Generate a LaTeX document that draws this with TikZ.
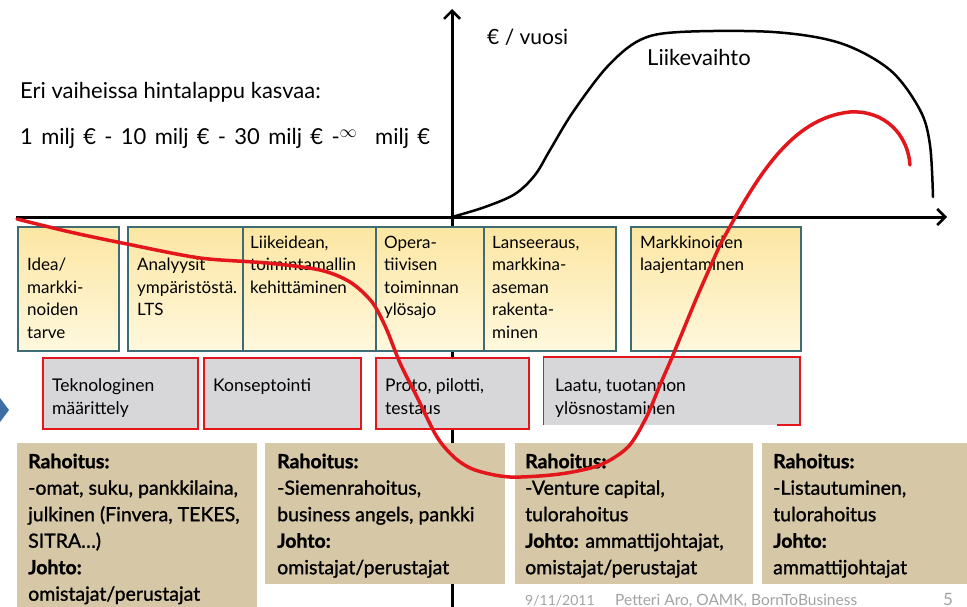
\documentclass[tikz,border=0pt]{standalone}
\usepackage{fontspec}
\setmainfont{Lato}
\newfontfamily\medfont[RawFeature={embolden=1.2}]{Lato}
\usetikzlibrary{arrows.meta,calc}
\definecolor{ytop}{HTML}{FCE6A2}
\definecolor{ybot}{HTML}{FFF8DE}
\definecolor{tealb}{HTML}{3D6C75}
\definecolor{greyf}{HTML}{D7D7D9}
\definecolor{redl}{HTML}{E3161C}
\definecolor{tanf}{HTML}{D6C8A7}
\definecolor{footg}{HTML}{A3A3A3}
\definecolor{bulletb}{HTML}{3F6DA6}
\begin{document}
\begin{tikzpicture}[x=1pt,y=-1pt,
  ybox/.style={draw=tealb, line width=2pt, top color=ytop, bottom color=ybot, inner sep=0pt, anchor=north west},
  gbox/.style={fill=greyf, draw=redl, line width=2pt, inner sep=0pt, anchor=north west},
  tbox/.style={fill=tanf, inner sep=0pt, anchor=north west},
  stxt/.style={inner sep=0pt, anchor=north west, align=left, font=\fontsize{17}{22.5}\selectfont},
  gtxt/.style={inner sep=0pt, anchor=north west, align=left, font=\fontsize{17.5}{23}\selectfont},
  ttxt/.style={inner sep=0pt, anchor=north west, align=left, font=\medfont\fontsize{19.5}{26.5}\selectfont},
  htxt/.style={inner sep=0pt, anchor=base west, font=\fontsize{22}{26}\selectfont},
  ftxt/.style={inner sep=0pt, anchor=base west, font=\fontsize{15.5}{17}\selectfont, text=footg},
  axisline/.style={line width=3pt, -{Straight Barb[length=8pt,width=16pt,line width=2.5pt]}}]
\fill[white] (0,0) rectangle (967,607);
\useasboundingbox (0,0) rectangle (967,607);

% axes
\coordinate (ob) at (452,607);
\coordinate (ot) at (452,9);
\coordinate (xl) at (16,217);
\coordinate (xr) at (947,217);
\draw[axisline] (ob) -- (ot);
\draw[axisline] (xl) -- (xr);

% yellow phase boxes
\node[ybox, minimum width=101pt, minimum height=124pt] (y1) at (17,226) {};
\node[ybox, minimum width=115pt, minimum height=124pt] (y2) at (127,226) {};
\node[ybox, minimum width=133pt, minimum height=124pt] (y3) at (242,226) {};
\node[ybox, minimum width=108pt, minimum height=124pt] (y4) at (375,226) {};
\node[ybox, minimum width=132pt, minimum height=124pt] (y5) at (483,226) {};
\node[ybox, minimum width=170pt, minimum height=124pt] (y6) at (630,226) {};

% grey boxes
\node[gbox, minimum width=155pt, minimum height=71pt] (ga) at (42,357) {};
\node[gbox, minimum width=157pt, minimum height=71pt] (gb) at (203,357) {};
\node[gbox, minimum width=153pt, minimum height=71pt] (gc) at (375,357) {};
\node[fill=greyf, inner sep=0pt, anchor=north west, minimum width=257pt, minimum height=68pt] (gd) at (543,357) {};
\draw[redl, line width=2pt] ($(gd.south east)+(-23,0)$) -- (gd.south east) -- (gd.north east) -- (gd.north west);
\draw[redl, line width=1pt] (gd.north west) -- (gd.south west);

% tan boxes
\node[tbox, minimum width=240pt, minimum height=170pt] (r1) at (17,443) {};
\node[tbox, minimum width=240pt, minimum height=141pt] (r2) at (265,443) {};
\node[tbox, minimum width=238pt, minimum height=141pt] (r3) at (515,443) {};
\node[tbox, minimum width=210pt, minimum height=141pt] (r4) at (762,443) {};

% Liikevaihto curve
\draw[line width=2.5pt, line cap=round] plot[smooth, tension=0.55] coordinates {
  (452,217) (485,207) (515,194) (535,175) (550,150) (573,112) (607,67) (640,40) (680,32)
  (773,32) (840,43) (890,70) (920,110) (930,145) (933,197)};

% texts
\node[htxt] (h1) at (20,99) {Eri vaiheissa hintalappu kasvaa:};
\node[htxt] (h2) at (20,145) {\spaceskip=8.3pt\relax 1 milj € - 10 milj € - 30 milj € -\raisebox{7pt}{\fontsize{19}{20}\selectfont$\infty$}\hspace{10pt} milj €};
\node[htxt, font=\fontsize{21}{24}\selectfont] (yax) at (487,45) {€ / vuosi};
\node[htxt] (lv) at (647,66) {Liikevaihto};

\node[stxt] (t1) at (27,254.75) {\strut Idea/\\markki-\\noiden\\tarve};
\node[stxt] (t2) at (137,254.75) {\strut Analyysit\\ympäristöstä.\\LTS};
\node[stxt] (t3) at (250,232.25) {\strut Liikeidean,\\toimintamallin\\kehittäminen};
\node[stxt] (t4) at (384,232.25) {\strut Opera-\\tiivisen\\toiminnan\\ylösajo};
\node[stxt] (t5) at (492,232.25) {\strut Lanseeraus,\\markkina-\\aseman\\rakenta-\\minen};
\node[stxt] (t6) at (640,232.25) {\strut Markkinoiden\\laajentaminen};

\node[gtxt] (s1) at (52,374.9) {\strut Teknologinen\\määrittely};
\node[gtxt] (s2) at (213,374.9) {\strut Konseptointi};
\node[gtxt] (s3) at (385,374.9) {\strut Proto, pilotti,\\testaus};
\node[gtxt] (s4) at (555,374.9) {\strut Laatu, tuotannon\\ylösnostaminen};

\node[ttxt] (f1) at (28,449.45) {\strut\textbf{Rahoitus:}\\-omat, suku, pankkilaina,\\julkinen (Finvera, TEKES,\\SITRA…)\\\textbf{Johto:}\\omistajat/perustajat};
\node[ttxt] (f2) at (277,449.45) {\strut\textbf{Rahoitus:}\\-Siemenrahoitus,\\business angels, pankki\\\textbf{Johto:}\\omistajat/perustajat};
\node[ttxt] (f3) at (525,449.45) {\strut\textbf{Rahoitus:}\\-Venture capital,\\tulorahoitus\\\textbf{Johto:} ammattijohtajat,\\omistajat/perustajat};
\node[ttxt] (f4) at (773,449.45) {\strut\textbf{Rahoitus:}\\-Listautuminen,\\tulorahoitus\\\textbf{Johto:}\\ammattijohtajat};

\node[ftxt, font=\fontsize{14}{16}\selectfont] (fd) at (525,605) {9/11/2011};
\node[ftxt] (fa) at (615,605) {Petteri Aro, OAMK, BornToBusiness};
\node[ftxt, font=\fontsize{17}{19}\selectfont] (fp) at (943,605) {5};

% bullet
\fill[bulletb] (0,398) -- (9,410) -- (0,422) -- cycle;

% red curve
\draw[redl, line width=3.5pt, line cap=round] plot[smooth, tension=0.5] coordinates {
  (17,219) (70,232) (127,244) (200,258) (267,263) (320,270) (350,282) (372,302)
  (386,328) (400,363) (417,397) (437,437) (455,458) (475,470) (510,477) (560,474)
  (600,465) (628,447) (646,418) (660,385) (673,355) (697,297) (720,245)}
  .. controls (755,180) and (790,118) .. (850,112)
  .. controls (885,110) and (908,135) .. (910,165);
\end{tikzpicture}
\end{document}
